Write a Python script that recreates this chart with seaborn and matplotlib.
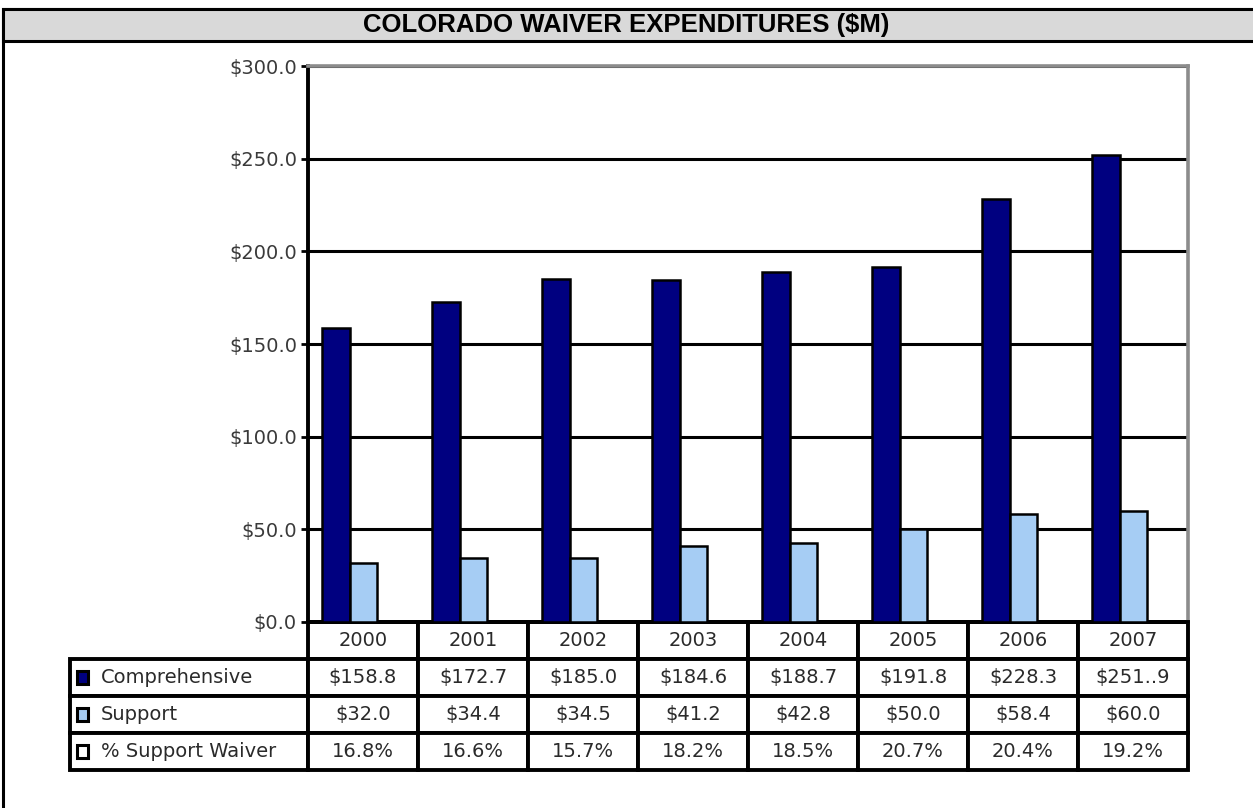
import pandas as pd
import numpy as np
import matplotlib.pyplot as plt
import seaborn as sns
from matplotlib.patches import Rectangle

# data
years = ['2000', '2001', '2002', '2003', '2004', '2005', '2006', '2007']
comprehensive = [158.8, 172.7, 185.0, 184.6, 188.7, 191.8, 228.3, 251.9]
support = [32.0, 34.4, 34.5, 41.2, 42.8, 50.0, 58.4, 60.0]
pct_support = ['16.8%', '16.6%', '15.7%', '18.2%', '18.5%', '20.7%', '20.4%', '19.2%']
comp_labels = ['$158.8', '$172.7', '$185.0', '$184.6', '$188.7', '$191.8', '$228.3', '$251..9']
row_labels = ['Comprehensive', 'Support', '% Support Waiver']
y_ticks = [0, 50, 100, 150, 200, 250, 300]

navy = '#000080'
pale = '#a6cdf4'

sns.set_style('white')
plt.rcParams['font.family'] = ['DejaVu Sans']

df = pd.DataFrame({
    'year': years * 2,
    'value': comprehensive + support,
    'series': ['Comprehensive'] * len(years) + ['Support'] * len(years),
})

fig = plt.figure(figsize=(12.53, 8.08), dpi=100)
W, H = 1253, 808

# outer frame + grey title bar
fig.add_artist(Rectangle((3 / W, -0.1), 1.2, 1 - 9 / H + 0.1, transform=fig.transFigure,
                         fill=False, edgecolor='black', lw=2.2))
fig.add_artist(Rectangle((3 / W, 1 - 41 / H), 1.2, 32 / H, transform=fig.transFigure,
                         facecolor='#d9d9d9', edgecolor='black', lw=2.2))
fig.text(0.4996, 1 - 25 / H, 'COLORADO WAIVER EXPENDITURES ($M)', ha='center', va='center',
         fontsize=18.5, fontweight='bold', color='black',
         family=['Liberation Sans', 'DejaVu Sans'])

ax = fig.add_axes([308 / W, 1 - 622 / H, 880 / W, 556 / H])
sns.barplot(data=df, x='year', y='value', hue='series', ax=ax,
            palette={'Comprehensive': navy, 'Support': pale}, saturation=1,
            width=0.5, edgecolor='black', linewidth=1.8, legend=False, zorder=3)
# bars sit a bit left of the category centre in the original
for p in ax.patches:
    p.set_x(p.get_x() - 0.12)

ax.set_ylim(0, 300)
ax.set_xlim(-0.5, 7.5)
ax.set_yticks(y_ticks)
ax.set_yticklabels(['$%.1f' % v for v in y_ticks], fontsize=14, color='#3a3a3a')
ax.set_xlabel('')
ax.set_ylabel('')
ax.tick_params(axis='x', bottom=False, labelbottom=False)
ax.tick_params(axis='y', left=True, direction='out', length=5, width=2, color='black', pad=3)
ax.set_axisbelow(True)
ax.yaxis.grid(True, color='black', lw=2.2)
ax.xaxis.grid(False)
ax.spines['left'].set_color('black')
ax.spines['left'].set_linewidth(2.8)
ax.spines['bottom'].set_color('black')
ax.spines['bottom'].set_linewidth(2.8)
for s in ['top', 'right']:
    ax.spines[s].set_color('#8c8c8c')
    ax.spines[s].set_linewidth(2.6)

# data table under the chart
cell_text = [
    [row_labels[0]] + comp_labels,
    [row_labels[1]] + ['$%.1f' % v for v in support],
    [row_labels[2]] + pct_support,
]
lab_w = 238 / 880
tbl_h = 148 / 556
tbl = ax.table(cellText=cell_text, colLabels=[''] + years, cellLoc='center',
               colWidths=[238] + [110] * len(years),
               bbox=[-lab_w, -tbl_h, 1 + lab_w, tbl_h])
tbl.auto_set_font_size(False)
for (r, c), cell in tbl.get_celld().items():
    cell.set_linewidth(2.8)
    cell.set_edgecolor('black')
    cell.get_text().set_fontsize(14)
    cell.get_text().set_color('#2a2a2a')
    if r == 0 and c == 0:
        cell.visible_edges = ''
    if c == 0 and r > 0:
        cell._loc = 'left'
        cell.PAD = 0.13
        cell.get_text().set_ha('left')

# legend keys in the table row labels
key_fill = [navy, pale, 'white']
row_h = tbl_h / 4
for i, fc in enumerate(key_fill):
    yc = -(i + 1.5) * row_h
    ax.add_patch(Rectangle((-231 / 880, yc - 6.5 / 556), 11 / 880, 13 / 556,
                           transform=ax.transAxes, clip_on=False,
                           facecolor=fc, edgecolor='black', lw=2.2, zorder=5))

plt.savefig('out.png', dpi=100)
